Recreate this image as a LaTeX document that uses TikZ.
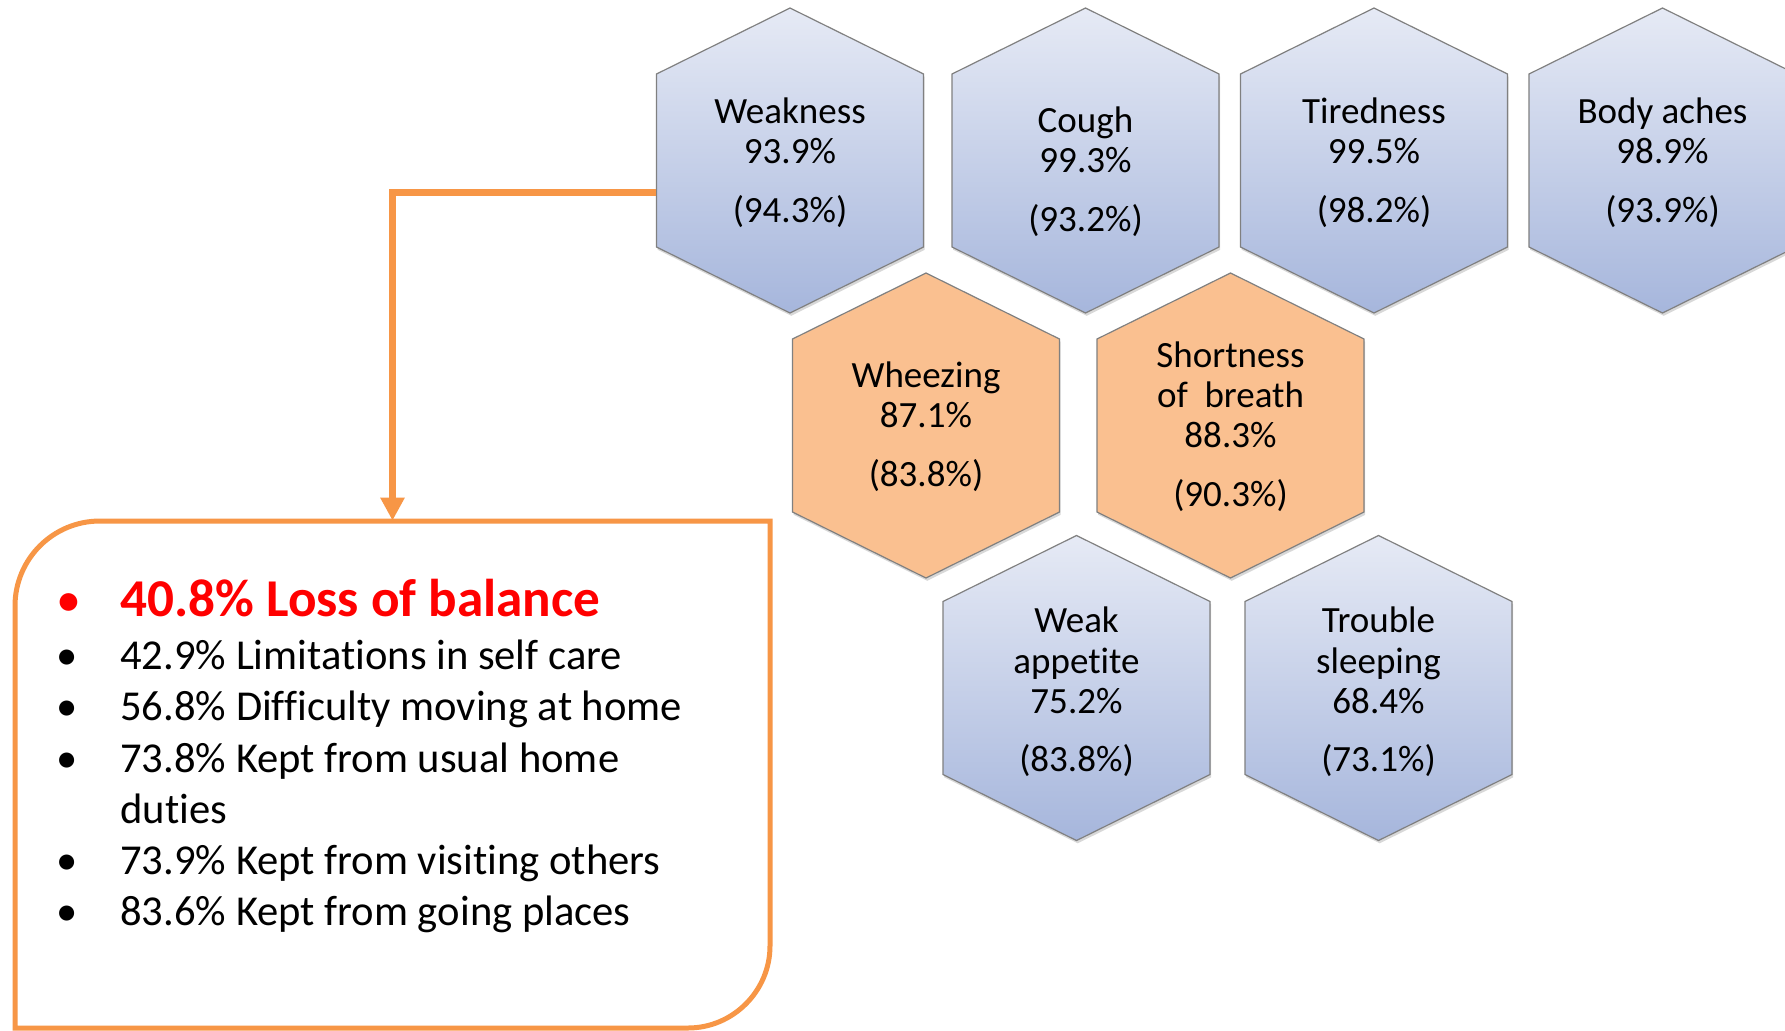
\documentclass[tikz,border=0pt]{standalone}
\usepackage{fontspec}
\setmainfont{Carlito}[RawFeature=-liga]
\usetikzlibrary{arrows.meta,shadows}

\definecolor{hextop}{RGB}{230,234,245}
\definecolor{hexbottom}{RGB}{166,182,220}
\definecolor{hexorange}{RGB}{250,192,144}
\definecolor{hexedge}{RGB}{128,128,128}
\definecolor{lineorange}{RGB}{247,150,70}
\definecolor{alarm}{RGB}{255,0,0}

\begin{document}
\begin{tikzpicture}[x=0.5pt,y=-0.5pt,
	>={Triangle[width=11.5pt,length=11.5pt]},
	every node/.style={inner sep=0pt},
	hexshadow/.style={drop shadow={shadow xshift=0.6pt,shadow yshift=-1.4pt,opacity=0.3}},
	bluehex/.style={draw=hexedge,line width=0.6pt,top color=hextop,bottom color=hexbottom,hexshadow},
	orangehex/.style={draw=hexedge,line width=0.6pt,fill=hexorange,hexshadow},
	hexlabel/.style={align=center,minimum width=133.5pt,font=\fontsize{18.5}{20.2}\selectfont},
	feedline/.style={draw=lineorange,line width=3.5pt},
	boxframe/.style={draw=lineorange,line width=2.5pt},
	listtext/.style={font=\fontsize{21.3}{25.6}\selectfont}]

	\useasboundingbox[fill=white] (0,0) rectangle (1785,1030);

	% symptom cells
	\foreach \nm/\cx/\cy/\kind/\dy/\txt in {
		weak/790/160.5/bluehex/2/{Weakness\\93.9\%\\[9pt](94.3\%)},
		cough/1085.5/160.5/bluehex/11/{Cough\\99.3\%\\[9pt](93.2\%)},
		tired/1374/160.5/bluehex/2/{Tiredness\\99.5\%\\[9pt](98.2\%)},
		aches/1662.5/160.5/bluehex/2/{Body aches\\98.9\%\\[9pt](93.9\%)},
		wheeze/926/425.5/orangehex/1/{Wheezing\\87.1\%\\[9pt](83.8\%)},
		breath/1230.5/425.5/orangehex/1/{Shortness\\of\ \ breath\\88.3\%\\[9pt](90.3\%)},
		appetite/1076.5/688/bluehex/4/{Weak\\appetite\\75.2\%\\[9pt](83.8\%)},
		sleep/1378.5/688/bluehex/4/{Trouble\\sleeping\\68.4\%\\[9pt](73.1\%)}}
	{
		\path[\kind] (\cx,\cy) ++(0,-152.5) -- ++(133.5,66) -- ++(0,173) -- ++(-133.5,66) -- ++(-133.5,-66) -- ++(0,-173) -- cycle;
		\node[hexlabel] (\nm) at (\cx,\cy+\dy) {\txt};
	}

	% limitations box
	\node[minimum width=377.5pt,minimum height=253.5pt] (lst) at (392.5,774.5) {};
	\draw[boxframe] (15,1028) -- (15,606) .. controls (15,559) and (53,521) .. (100,521) -- (770,521) -- (770,946) .. controls (770,991) and (733,1028) .. (688,1028) -- cycle;

	\node[listtext,anchor=base west] (items) at (56,616) {%
		\begin{tabular}[t]{@{}p{32pt}@{}l@{}}
		\textcolor{alarm}{\fontsize{25}{30}\selectfont\textbullet} & \textcolor{alarm}{\bfseries\fontsize{26.6}{30}\selectfont 40.8\% Loss of balance}\\[1.25pt]
		\textbullet & 42.9\% Limitations in self care\\
		\textbullet & 56.8\% Difficulty moving at home\\
		\textbullet & 73.8\% Kept from usual home\\
		 & duties\\
		\textbullet & 73.9\% Kept from visiting others\\
		\textbullet & 83.6\% Kept from going places
		\end{tabular}};

	\draw[feedline,->] ([yshift=-15pt]weak.west) -| (lst.north);
\end{tikzpicture}
\end{document}
